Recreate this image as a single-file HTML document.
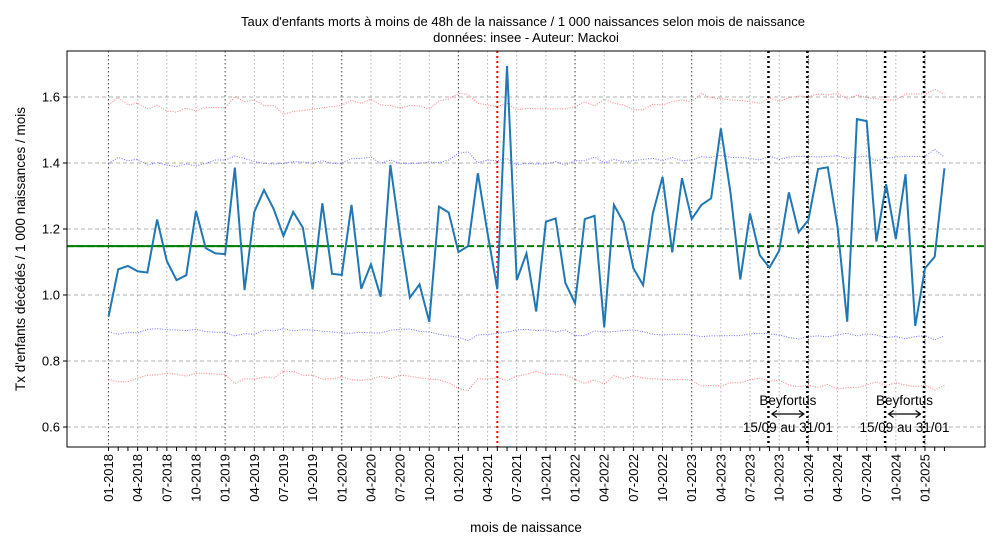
<!DOCTYPE html>
<html><head><meta charset="utf-8"><style>
body{margin:0;background:#fff;}
svg{display:block;font-family:"Liberation Sans","DejaVu Sans",sans-serif;}
</style></head><body>
<svg id="chart" width="1000" height="550" xmlns="http://www.w3.org/2000/svg"></svg>
<script>
const rate=[0.934,1.078,1.088,1.072,1.068,1.229,1.103,1.045,1.060,1.255,1.142,1.126,1.124,1.386,1.015,1.252,1.318,1.260,1.179,1.252,1.204,1.017,1.278,1.064,1.061,1.273,1.019,1.093,0.995,1.394,1.182,0.992,1.032,0.919,1.268,1.250,1.130,1.148,1.369,1.187,1.017,1.694,1.045,1.126,
0.950,1.222,1.232,1.037,0.975,1.230,1.240,0.902,1.273,1.219,1.081,1.030,1.247,1.358,1.129,1.354,1.230,1.273,1.293,1.505,1.308,1.047,1.247,1.121,1.083,1.134,1.311,1.190,1.227,1.382,1.387,1.207,0.919,1.533,1.527,1.162,1.336,1.170,1.366,0.906,1.081,1.116,1.384];
const redUpper=[1.576,1.598,1.576,1.581,1.564,1.574,1.558,1.554,1.566,1.558,1.569,1.568,1.567,1.601,1.586,1.591,1.574,1.574,1.548,1.556,1.559,1.563,1.567,1.571,1.575,1.590,1.581,1.593,1.576,1.574,1.566,1.574,1.573,1.563,1.588,1.594,1.611,1.608,1.581,1.576,1.571,1.581,1.561,1.566,
1.564,1.564,1.564,1.564,1.571,1.586,1.573,1.593,1.581,1.576,1.561,1.561,1.578,1.576,1.586,1.591,1.586,1.611,1.598,1.595,1.591,1.589,1.586,1.581,1.598,1.586,1.598,1.603,1.601,1.609,1.606,1.611,1.594,1.606,1.598,1.595,1.591,1.591,1.609,1.609,1.609,1.623,1.609];
const blueUpper=[1.399,1.417,1.407,1.411,1.394,1.401,1.394,1.389,1.397,1.391,1.399,1.409,1.409,1.421,1.414,1.404,1.399,1.397,1.399,1.404,1.403,1.399,1.407,1.399,1.399,1.413,1.414,1.418,1.399,1.409,1.399,1.399,1.399,1.403,1.401,1.409,1.429,1.434,1.401,1.409,1.407,1.414,1.394,1.399,
1.397,1.397,1.404,1.394,1.407,1.407,1.418,1.401,1.411,1.404,1.407,1.411,1.414,1.407,1.417,1.407,1.409,1.419,1.417,1.424,1.417,1.417,1.414,1.409,1.421,1.411,1.418,1.420,1.420,1.418,1.420,1.422,1.414,1.418,1.421,1.407,1.414,1.418,1.420,1.420,1.420,1.441,1.418];
const blueLower=[0.889,0.881,0.887,0.885,0.896,0.898,0.895,0.894,0.892,0.896,0.889,0.887,0.886,0.876,0.883,0.881,0.894,0.891,0.898,0.891,0.895,0.894,0.890,0.888,0.884,0.884,0.887,0.885,0.885,0.893,0.896,0.897,0.890,0.888,0.881,0.876,0.872,0.862,0.879,0.880,0.884,0.888,0.894,0.896,
0.892,0.894,0.888,0.894,0.877,0.877,0.891,0.888,0.889,0.892,0.894,0.889,0.881,0.879,0.881,0.881,0.879,0.874,0.876,0.876,0.877,0.877,0.882,0.884,0.882,0.879,0.871,0.867,0.874,0.876,0.873,0.879,0.884,0.876,0.882,0.879,0.871,0.874,0.867,0.874,0.877,0.864,0.876];
const redLower=[0.745,0.737,0.737,0.748,0.757,0.758,0.763,0.760,0.754,0.763,0.763,0.760,0.759,0.732,0.746,0.745,0.752,0.748,0.769,0.768,0.757,0.757,0.745,0.746,0.752,0.743,0.741,0.745,0.754,0.746,0.757,0.754,0.749,0.746,0.743,0.734,0.717,0.710,0.746,0.745,0.749,0.741,0.754,0.760,
0.768,0.760,0.760,0.758,0.745,0.732,0.743,0.730,0.756,0.746,0.755,0.749,0.746,0.745,0.743,0.745,0.741,0.724,0.726,0.724,0.734,0.734,0.743,0.748,0.739,0.741,0.727,0.722,0.726,0.720,0.729,0.714,0.720,0.719,0.727,0.737,0.726,0.734,0.727,0.722,0.727,0.712,0.726];
const meanRate=[1.148];
const yTicks=[0.6,0.8,1.0,1.2,1.4,1.6];
const redLineMonth=[40];
const beyfortusStart=[68,80];
const beyfortusEnd=[72,84];
const solidMeanEndMonth=[22.5];

const svg=document.getElementById('chart');
const NS='http://www.w3.org/2000/svg';
const L=67,R=985,T=51,B=447;
const x=i=>108.5+i*9.72;
const y=v=>295-(v-1)*330;
function mk(tag,attrs,parent){const e=document.createElementNS(NS,tag);for(const k in attrs)e.setAttribute(k,attrs[k]);(parent||svg).appendChild(e);return e;}

// horizontal grid
yTicks.forEach(v=>{
  const g=mk('line',{x1:L,x2:R,y1:y(v),y2:y(v),stroke:'#b0b0b0','stroke-dasharray':'4,3','stroke-width':1});
  
  
  mk('line',{x1:L-4,x2:L,y1:y(v),y2:y(v),stroke:'#000'});
  const t=mk('text',{x:L-7,y:y(v)+4.5,'text-anchor':'end','font-size':13});
  t.textContent=v.toFixed(1);
  
  
});
// vertical grid + x ticks
for(let i=0;i<rate.length;i++){
  mk('line',{x1:x(i),x2:x(i),y1:B,y2:B+4,stroke:'#000'});
  if(i%3===0){
    const jan=i%12===0;
    const g=mk('line',{x1:x(i),x2:x(i),y1:T,y2:B,stroke:jan?'#444':'#b0b0b0','stroke-dasharray':'1.5,2.5','stroke-width':1});
    
    
    if(i<=84){
      const m=String(i%12+1).padStart(2,'0'),yr=2018+Math.floor(i/12);
      const t=mk('text',{transform:`translate(${x(i)+4.5},${B+7}) rotate(-90)`,'text-anchor':'end','font-size':13});
      t.textContent=m+'-'+yr;
      
      
    }
  }
}
function line(arr,stroke,w,dash,name){
  const p=mk('polyline',{points:arr.map((v,i)=>x(i)+','+y(v)).join(' '),fill:'none',stroke:stroke,'stroke-width':w,'stroke-dasharray':dash||'none','stroke-opacity':dash?0.75:1});
  
  
}
line(redUpper,'#ff5050',1,'1,1.5','red-upper-band');
line(redLower,'#ff5050',1,'1,1.5','red-lower-band');
line(blueUpper,'#4040ff',1,'1,1.5','blue-upper-band');
line(blueLower,'#4040ff',1,'1,1.5','blue-lower-band');
// mean
const ms=mk('line',{x1:L,x2:x(solidMeanEndMonth[0]),y1:y(meanRate[0]),y2:y(meanRate[0]),stroke:'#008000','stroke-width':2});


const md=mk('line',{x1:L,x2:R,y1:y(meanRate[0]),y2:y(meanRate[0]),stroke:'#008000','stroke-width':2,'stroke-dasharray':'7,3'});


// red vertical
const rv=mk('line',{x1:x(redLineMonth[0]),x2:x(redLineMonth[0]),y1:T,y2:B,stroke:'#ff0000','stroke-width':2,'stroke-dasharray':'2,3'});


// beyfortus
beyfortusStart.forEach((s,k)=>{
  const e=beyfortusEnd[k];
  [s,e].forEach(m=>{
    const v=mk('line',{x1:x(m)-1,x2:x(m)-1,y1:T,y2:B,stroke:'#000','stroke-width':2.5,'stroke-dasharray':'2,3'});
    
    
  });
  const cx=(x(s)+x(e))/2-1;
  const t1=mk('text',{x:cx,y:405,'text-anchor':'middle','font-size':13.5});
  t1.textContent='Beyfortus';
  
  
  const ax1=cx-16,ax2=cx+16;
  const a=mk('path',{d:`M${ax1},414 L${ax2},414 M${ax1+5},410.5 L${ax1},414 L${ax1+5},417.5 M${ax2-5},410.5 L${ax2},414 L${ax2-5},417.5`,stroke:'#000','stroke-width':1.2,fill:'none'});
  
  
  const t2=mk('text',{x:cx,y:432,'text-anchor':'middle','font-size':13.5});
  t2.textContent='15/09 au 31/01';
  
  
});
line(rate,'#1f77b4',2,null,'rate-series');
// axes frame
const fr=mk('rect',{x:L,y:T,width:R-L,height:B-T,fill:'none',stroke:'#000','stroke-width':1});


// titles
const tt=mk('text',{x:523,y:26,'text-anchor':'middle','font-size':13});
tt.textContent="Taux d'enfants morts à moins de 48h de la naissance / 1 000 naissances selon mois de naissance";


const st=mk('text',{x:526,y:42,'text-anchor':'middle','font-size':13});
st.textContent="données: insee - Auteur: Mackoi";


const xl=mk('text',{x:526,y:532,'text-anchor':'middle','font-size':13.5});
xl.textContent='mois de naissance';


const yl=mk('text',{transform:'translate(25,249) rotate(-90)','text-anchor':'middle','font-size':13.5});
yl.textContent="Tx d'enfants décédés / 1 000 naissances / mois";


</script>
</body></html>
